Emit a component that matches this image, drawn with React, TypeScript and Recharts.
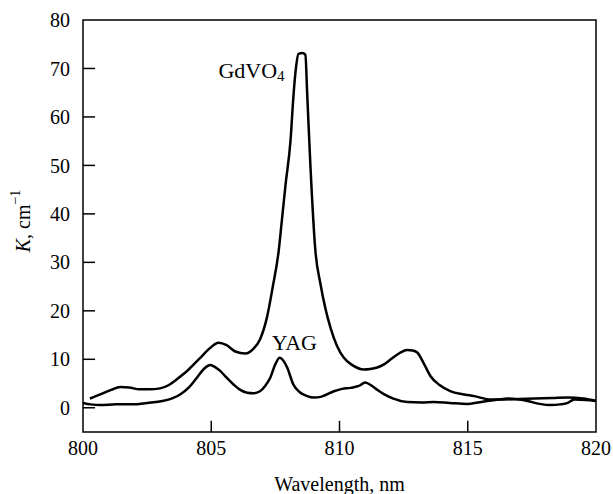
import { LineChart, Line, XAxis, YAxis, ReferenceArea, ReferenceLine, ReferenceDot, Label } from 'recharts';

// absorption spectra (wavelength nm, K cm^-1)
const gdvo4Wl = [
  800.27, 800.7, 801.1, 801.45, 801.8, 802.2, 802.6, 803.0, 803.35, 803.66, 804.1, 804.57, 804.95,
  805.28, 805.6, 805.94, 806.33, 806.65, 806.9, 807.17, 807.4, 807.63, 807.75, 807.9, 808.09, 808.2,
  808.3, 808.4, 808.55, 808.67, 808.74, 808.87, 809.06, 809.26, 809.45, 809.65, 809.9, 810.17, 810.5,
  810.95, 811.2, 811.47, 811.75, 812.0, 812.35, 812.64, 812.85, 813.03, 813.3, 813.55, 813.9, 814.34,
  814.8, 815.25, 815.9, 816.3, 817.0, 817.6, 818.3, 818.9, 819.5, 820.0,
];
const gdvo4K = [
  1.9, 2.8, 3.7, 4.3, 4.2, 3.8, 3.8, 4.0, 4.7, 5.9, 7.8, 10.3, 12.3,
  13.4, 12.9, 11.6, 11.2, 12.2, 14.1, 18.6, 25, 32.4, 38.5, 46.2, 55.1, 64,
  70, 73, 73.2, 72.8, 64.8, 49.5, 32.4, 25.5, 20.5, 16.5, 12.8, 10.3, 8.8,
  7.9, 8.0, 8.3, 9.0, 10.0, 11.3, 11.9, 11.8, 11.4, 9.0, 6.5, 4.7, 3.4,
  2.8, 2.4, 1.7, 1.7, 1.8, 1.9, 2.0, 2.1, 1.9, 1.4,
];

const yagWl = [
  800.0, 800.3, 800.66, 801.3, 801.96, 802.5, 803.1, 803.5, 803.8, 804.15, 804.44, 804.75, 804.96,
  805.15, 805.35, 805.6, 805.87, 806.1, 806.4, 806.65, 806.9, 807.1, 807.3, 807.5, 807.67, 807.8,
  807.96, 808.2, 808.45, 808.74, 809.0, 809.3, 809.78, 810.1, 810.43, 810.75, 811.0, 811.27, 811.5,
  811.73, 812.1, 812.64, 813.2, 813.68, 814.3, 814.99, 815.4, 815.77, 816.2, 816.55, 817.0, 817.33,
  817.8, 818.24, 818.6, 818.9, 819.15, 819.6, 820.0,
];
const yagK = [
  1.0, 0.7, 0.55, 0.7, 0.7, 1.0, 1.4, 2.0, 2.8, 4.3, 6.2, 8.2, 8.8,
  8.4, 7.6, 6.2, 4.8, 3.8, 3.1, 3.0, 3.4, 4.5, 6.2, 9.0, 10.3, 9.8,
  8.3, 4.8, 3.2, 2.4, 2.1, 2.3, 3.4, 3.9, 4.1, 4.5, 5.2, 4.5, 3.6,
  2.8, 1.9, 1.2, 1.1, 1.2, 1.0, 0.8, 1.1, 1.4, 1.7, 1.9, 1.7, 1.4,
  0.8, 0.55, 0.7, 1.0, 1.7, 1.6, 1.4,
];

const xTicks = [800, 805, 810, 815, 820];
const yTicks = [0, 10, 20, 30, 40, 50, 60, 70, 80];
const innerXTicks = [805, 810, 815];
const innerYTicks = [0, 10, 20, 30, 40, 50, 60, 70];

const gdvo4 = gdvo4Wl.map((wl, i) => ({ wl, k: gdvo4K[i] }));
const yag = yagWl.map((wl, i) => ({ wl, k: yagK[i] }));

const FONT = '"Liberation Serif", "Times New Roman", serif';

const GdLabel = (props: any) => {
  const { x, y } = props.viewBox;
  return (
    <text x={x} y={y} textAnchor="middle" fontFamily={FONT} fontSize={22} fill="#000" dominantBaseline="central">
      GdVO<tspan fontSize={15} dy={5}>4</tspan>
    </text>
  );
};

const YagLabel = (props: any) => {
  const { x, y } = props.viewBox;
  return (
    <text x={x} y={y} textAnchor="middle" fontFamily={FONT} fontSize={22} fill="#000" dominantBaseline="central">
      YAG
    </text>
  );
};

const YTitle = (props: any) => {
  const { x, y, height } = props.viewBox;
  const cx = x + 23;
  const cy = y + height / 2 - 5;
  return (
    <text x={cx} y={cy} transform={`rotate(-90 ${cx} ${cy})`} textAnchor="middle" dominantBaseline="central" fontFamily={FONT} fontSize={20} fill="#000">
      <tspan fontStyle="italic">K</tspan>, cm<tspan fontSize={14} dy={-8}>−1</tspan>
    </text>
  );
};

export default function App() {
  return (
    <div style={{ position: 'absolute', left: 0, top: 0 }}>
      <LineChart width={613} height={494} margin={{ top: 20, right: 17, bottom: 0, left: 0 }}>
        <XAxis
          type="number"
          dataKey="wl"
          domain={[800, 820]}
          ticks={xTicks}
          axisLine={false}
          tickLine={false}
          tickSize={0}
          tickMargin={9}
          height={62}
          tick={{ fill: '#000', fontSize: 20, fontFamily: FONT }}
          allowDuplicatedCategory={false}
        >
          <Label value="Wavelength, nm" position="insideBottom" offset={3} fill="#000" fontSize={20} fontFamily={FONT} />
        </XAxis>
        <YAxis
          type="number"
          domain={[-5, 80]}
          ticks={yTicks}
          axisLine={false}
          tickLine={false}
          tickSize={0}
          tickMargin={13}
          width={83}
          tick={{ fill: '#000', fontSize: 20, fontFamily: FONT }}
          label={{ content: YTitle }}
        />
        <ReferenceArea x1={800} x2={820} y1={-5} y2={80} fill="none" stroke="#000" strokeWidth={1.5} />
        {innerXTicks.map((t) => (
          <ReferenceLine key={'x' + t} segment={[{ x: t, y: -5 }, { x: t, y: -2.7 }]} stroke="#000" strokeWidth={1.5} />
        ))}
        {innerYTicks.map((t) => (
          <ReferenceLine key={'y' + t} segment={[{ x: 800, y: t }, { x: 800.47, y: t }]} stroke="#000" strokeWidth={1.5} />
        ))}
        <Line data={gdvo4} dataKey="k" type="monotone" stroke="#000" strokeWidth={2.5} dot={false} isAnimationActive={false} />
        <Line data={yag} dataKey="k" type="monotone" stroke="#000" strokeWidth={2.5} dot={false} isAnimationActive={false} />
        <ReferenceDot x={806.57} y={69.5} r={0} stroke="none" label={{ content: GdLabel }} />
        <ReferenceDot x={808.24} y={13.4} r={0} stroke="none" label={{ content: YagLabel }} />
      </LineChart>
    </div>
  );
}
